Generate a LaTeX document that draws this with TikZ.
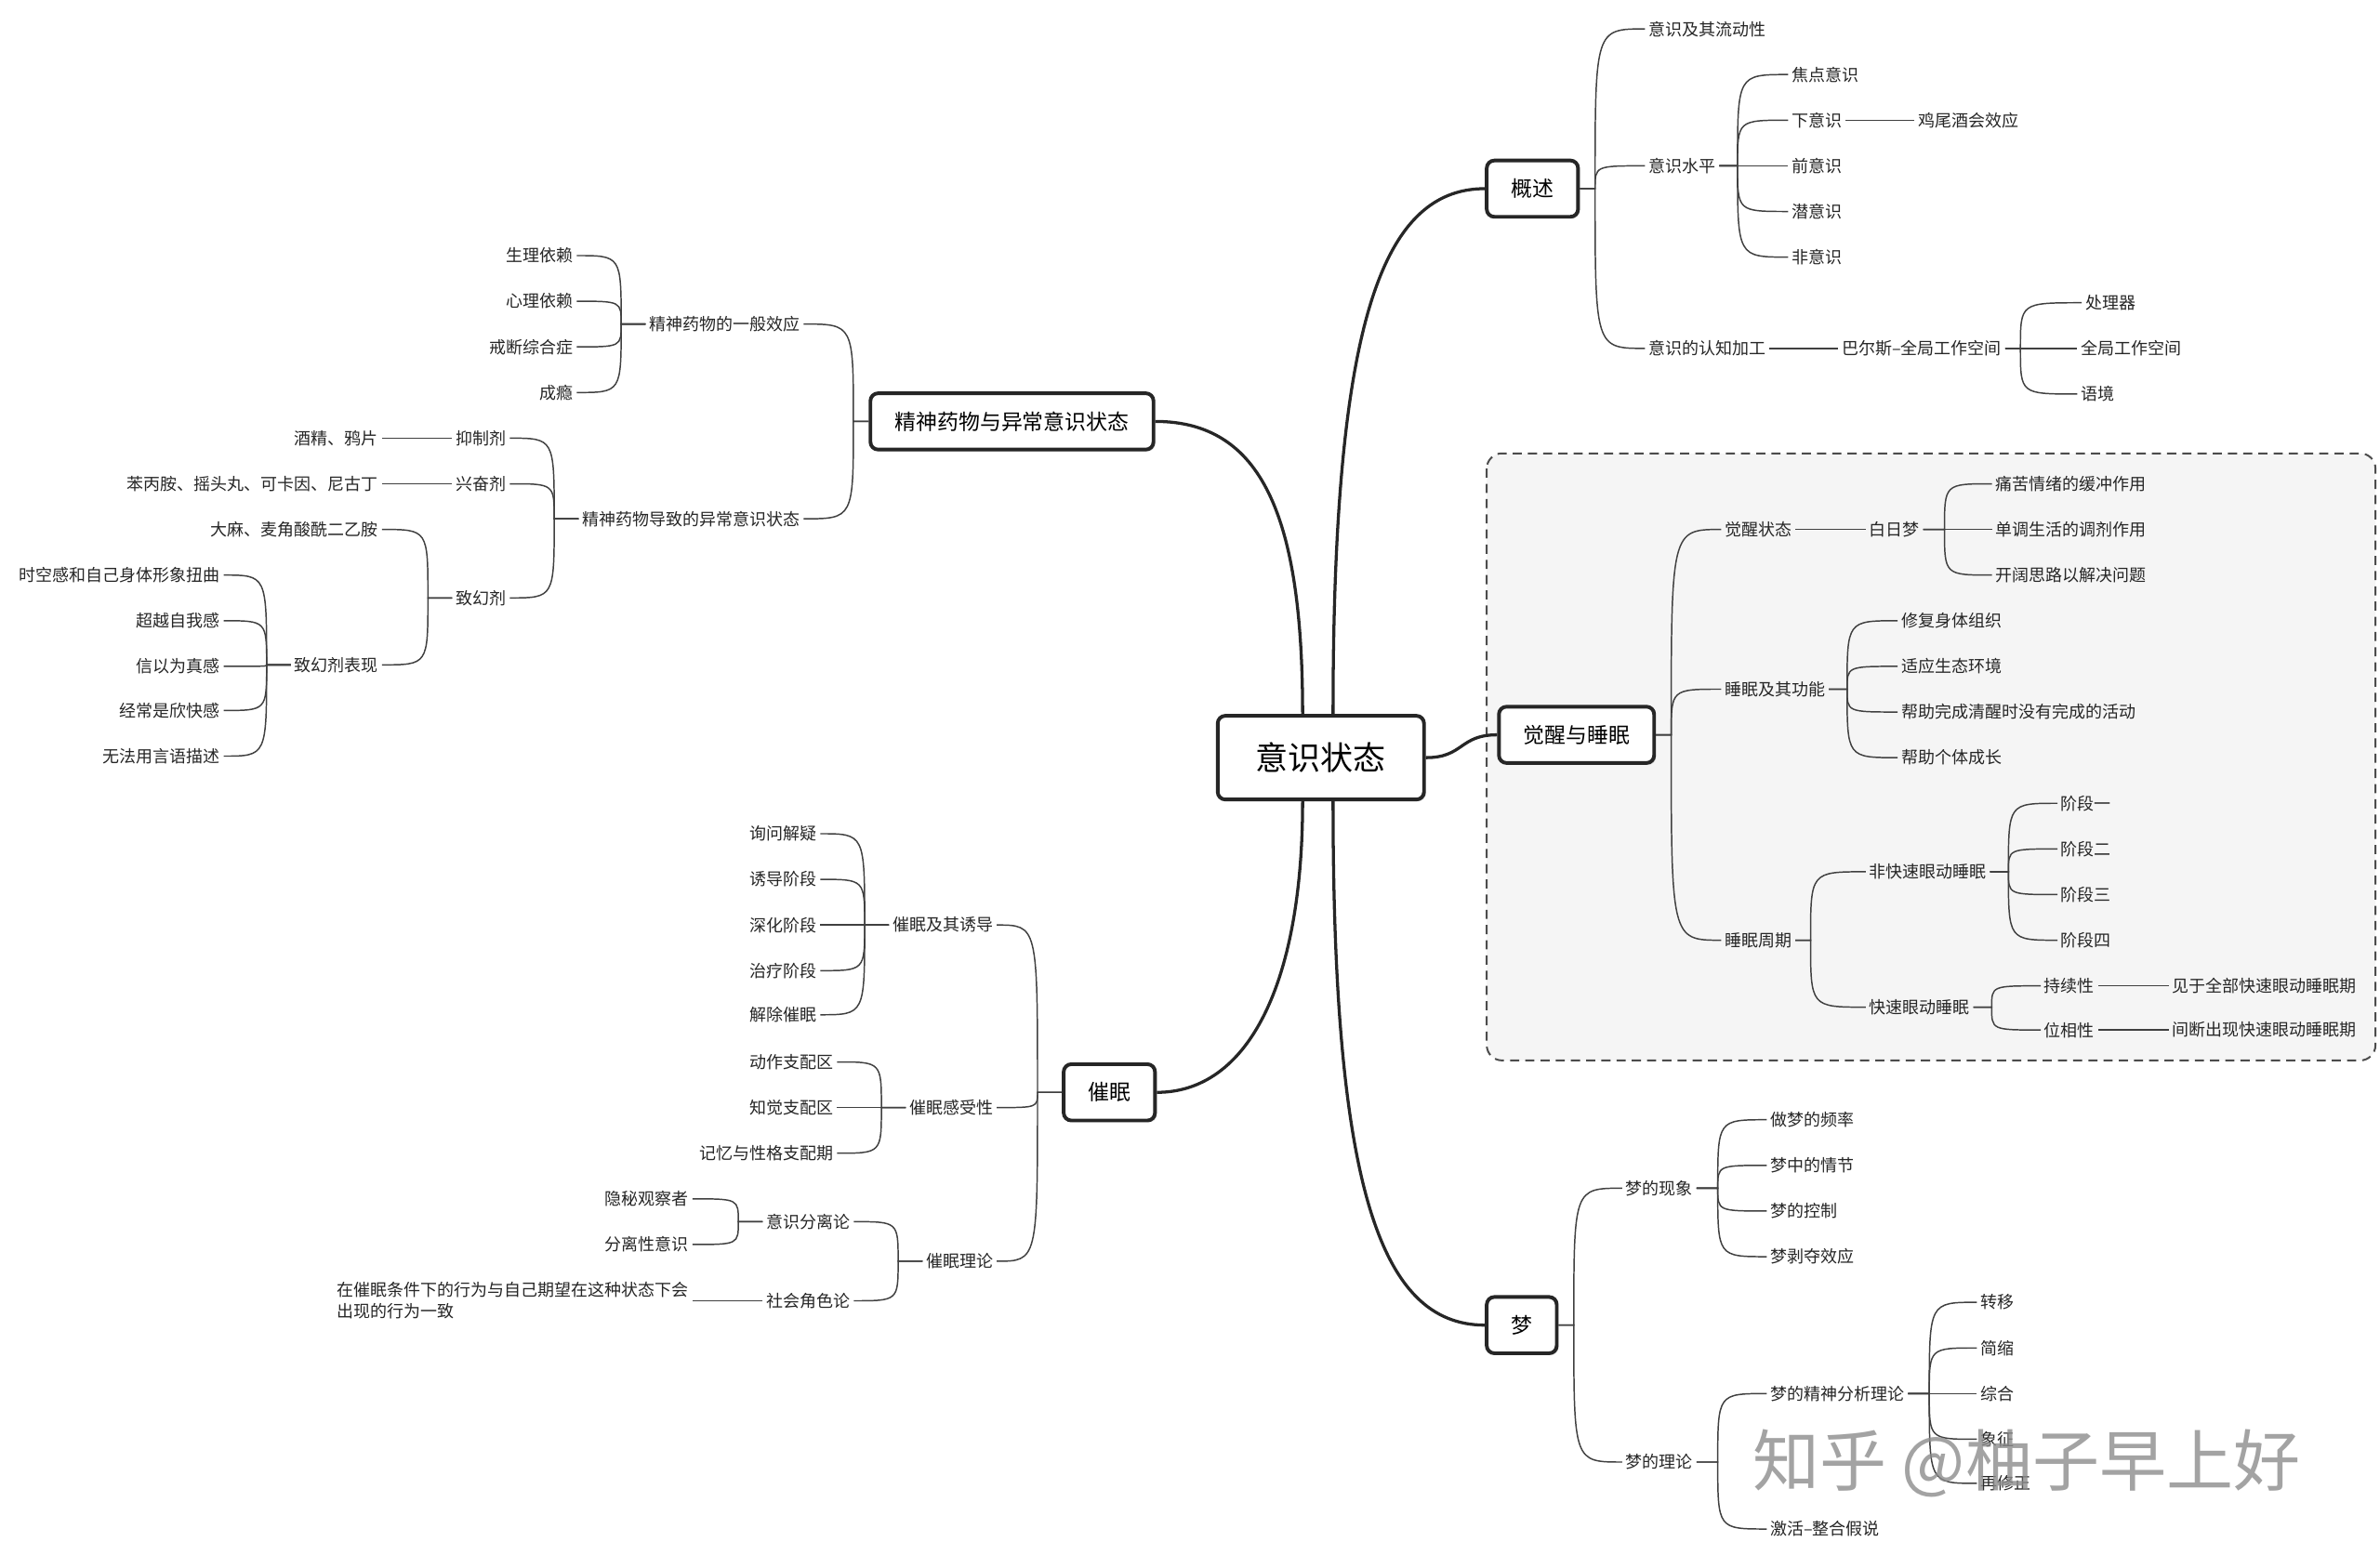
\documentclass[tikz,border=0pt]{standalone}
\usepackage{fontspec}
\setmainfont{Noto Sans CJK SC}
\usetikzlibrary{calc,shadows}
\newcommand{\RR}[4]{\node[t,anchor=west] (#1) at (#2,#3) {#4};}
\newcommand{\LL}[4]{\node[t,anchor=east] (#1) at (#2,#3) {#4};}
\newcommand{\rc}[3][5pt]{\draw[ln] let \p1=(#2.east),\p2=(#3.west) in (\p1) -- (\x1+#1,\y1) .. controls (\x1+#1,\y2) .. (\p2);}
\newcommand{\lc}[3][5pt]{\draw[ln] let \p1=(#2.west),\p2=(#3.east) in (\p1) -- (\x1-#1,\y1) .. controls (\x1-#1,\y2) .. (\p2);}
\begin{document}
\begin{tikzpicture}[x=0.5pt,y=-0.5pt,
  t/.style={font=\fontsize{5.5}{7}\selectfont,inner sep=1pt,text=black!85},
  box/.style={draw=black!85,line width=1.2pt,rounded corners=2.5pt,fill=white,inner xsep=8pt,minimum height=18.5pt,font=\fontsize{7}{8}\selectfont,drop shadow={shadow xshift=0.6pt,shadow yshift=-0.6pt,opacity=0.25}},
  ln/.style={draw=black!75,line width=0.45pt},
  mainln/.style={draw=black!85,line width=1pt}]
\useasboundingbox (0,0) rectangle (1564,1022);
\fill[white] (0,0) rectangle (1564,1022);
% dashed region
\draw[black!70,line width=0.6pt,dash pattern=on 3pt off 2pt,rounded corners=5pt,fill=black!4] (977,298) rectangle (1561,697);

\node[box,inner xsep=12.5pt,minimum height=27.5pt,font=\fontsize{10.7}{12}\selectfont] (M) at (868,498) {意识状态};
\node[box] (A) at (1007,124) {概述};
\node[box] (B) at (1036,483) {觉醒与睡眠};
\node[box] (C) at (1000,871) {梦};
\node[box] (D) at (665,277) {精神药物与异常意识状态};
\node[box] (E) at (729,718) {催眠};

\draw[mainln] ([xshift=4pt]M.north) .. controls +(0,-250) and +(-70,0) .. (A.west);
\draw[mainln] ([xshift=-6pt]M.north) .. controls +(0,-130) and +(70,0) .. (D.east);
\draw[mainln] ([xshift=4pt]M.south) .. controls +(0,250) and +(-70,0) .. (C.west);
\draw[mainln] ([xshift=-6pt]M.south) .. controls +(0,120) and +(60,0) .. (E.east);
\draw[mainln] (M.east) .. controls +(25,0) and +(-25,0) .. (B.west);

% 概述
\RR{a1}{1081}{19}{意识及其流动性}
\RR{a2}{1081}{109}{意识水平}
\RR{a3}{1081}{229}{意识的认知加工}
\rc{A}{a1}\rc{A}{a2}\rc{A}{a3}
\RR{a21}{1175}{49}{焦点意识}
\RR{a22}{1175}{79}{下意识}
\RR{a23}{1175}{109}{前意识}
\RR{a24}{1175}{139}{潜意识}
\RR{a25}{1175}{169}{非意识}
\rc[6pt]{a2}{a21}\rc[6pt]{a2}{a22}\rc[6pt]{a2}{a23}\rc[6pt]{a2}{a24}\rc[6pt]{a2}{a25}
\RR{a221}{1258}{79}{鸡尾酒会效应}
\rc{a22}{a221}
\RR{a31}{1208}{229}{巴尔斯–全局工作空间}
\rc{a3}{a31}
\RR{a311}{1368}{199}{处理器}
\RR{a312}{1365}{229}{全局工作空间}
\RR{a313}{1365}{259}{语境}
\rc{a31}{a311}\rc{a31}{a312}\rc{a31}{a313}

% 觉醒与睡眠
\RR{b1}{1131}{348}{觉醒状态}
\RR{b2}{1131}{453}{睡眠及其功能}
\RR{b3}{1131}{618}{睡眠周期}
\rc{B}{b1}\rc{B}{b2}\rc{B}{b3}
\RR{b11}{1226}{348}{白日梦}
\rc{b1}{b11}
\RR{b111}{1309}{318}{痛苦情绪的缓冲作用}
\RR{b112}{1309}{348}{单调生活的调剂作用}
\RR{b113}{1309}{378}{开阔思路以解决问题}
\rc[7pt]{b11}{b111}\rc[7pt]{b11}{b112}\rc[7pt]{b11}{b113}
\RR{b21}{1247}{408}{修复身体组织}
\RR{b22}{1247}{438}{适应生态环境}
\RR{b23}{1247}{468}{帮助完成清醒时没有完成的活动}
\RR{b24}{1247}{498}{帮助个体成长}
\rc[6pt]{b2}{b21}\rc[6pt]{b2}{b22}\rc[6pt]{b2}{b23}\rc[6pt]{b2}{b24}
\RR{b31}{1226}{573}{非快速眼动睡眠}
\RR{b32}{1226}{662}{快速眼动睡眠}
\rc[5pt]{b3}{b31}\rc[5pt]{b3}{b32}
\RR{b311}{1352}{528}{阶段一}
\RR{b312}{1352}{558}{阶段二}
\RR{b313}{1352}{588}{阶段三}
\RR{b314}{1352}{618}{阶段四}
\rc[6pt]{b31}{b311}\rc[6pt]{b31}{b312}\rc[6pt]{b31}{b313}\rc[6pt]{b31}{b314}
\RR{b321}{1341}{648}{持续性}
\RR{b322}{1341}{677}{位相性}
\rc[6pt]{b32}{b321}\rc[6pt]{b32}{b322}
\RR{b3211}{1425}{648}{见于全部快速眼动睡眠期}
\RR{b3221}{1425}{677}{间断出现快速眼动睡眠期}
\rc{b321}{b3211}\rc{b322}{b3221}

% 梦
\RR{c1}{1066}{781}{梦的现象}
\RR{c2}{1066}{961}{梦的理论}
\rc{C}{c1}\rc{C}{c2}
\RR{c11}{1161}{736}{做梦的频率}
\RR{c12}{1161}{766}{梦中的情节}
\RR{c13}{1161}{796}{梦的控制}
\RR{c14}{1161}{826}{梦剥夺效应}
\rc[7pt]{c1}{c11}\rc[7pt]{c1}{c12}\rc[7pt]{c1}{c13}\rc[7pt]{c1}{c14}
\RR{c21}{1161}{916}{梦的精神分析理论}
\RR{c22}{1161}{1005}{激活–整合假说}
\rc[7pt]{c2}{c21}\rc[7pt]{c2}{c22}
\RR{c211}{1299}{856}{转移}
\RR{c212}{1299}{886}{简缩}
\RR{c213}{1299}{916}{综合}
\RR{c214}{1299}{946}{象征}
\RR{c215}{1299}{975}{再修正}
\rc[7pt]{c21}{c211}\rc[7pt]{c21}{c212}\rc[7pt]{c21}{c213}\rc[7pt]{c21}{c214}\rc[7pt]{c21}{c215}

% 精神药物
\LL{d1}{528}{213}{精神药物的一般效应}
\LL{d2}{528}{341}{精神药物导致的异常意识状态}
\lc{D}{d1}\lc{D}{d2}
\LL{d11}{379}{168}{生理依赖}
\LL{d12}{379}{198}{心理依赖}
\LL{d13}{379}{228}{戒断综合症}
\LL{d14}{379}{258}{成瘾}
\lc[8pt]{d1}{d11}\lc[8pt]{d1}{d12}\lc[8pt]{d1}{d13}\lc[8pt]{d1}{d14}
\LL{d21}{335}{288}{抑制剂}
\LL{d22}{335}{318}{兴奋剂}
\LL{d23}{335}{393}{致幻剂}
\lc[8pt]{d2}{d21}\lc[8pt]{d2}{d22}\lc[8pt]{d2}{d23}
\LL{d211}{251}{288}{酒精、鸦片}
\LL{d221}{251}{318}{苯丙胺、摇头丸、可卡因、尼古丁}
\lc{d21}{d211}\lc{d22}{d221}
\LL{d231}{251}{348}{大麻、麦角酸酰二乙胺}
\LL{d232}{251}{437}{致幻剂表现}
\lc[8pt]{d23}{d231}\lc[8pt]{d23}{d232}
\LL{d2321}{147}{378}{时空感和自己身体形象扭曲}
\LL{d2322}{147}{408}{超越自我感}
\LL{d2323}{147}{438}{信以为真感}
\LL{d2324}{147}{467}{经常是欣快感}
\LL{d2325}{147}{497}{无法用言语描述}
\lc[8pt]{d232}{d2321}\lc[8pt]{d232}{d2322}\lc[8pt]{d232}{d2323}\lc[8pt]{d232}{d2324}\lc[8pt]{d232}{d2325}

% 催眠
\LL{e1}{655}{608}{催眠及其诱导}
\LL{e2}{655}{728}{催眠感受性}
\LL{e3}{655}{829}{催眠理论}
\lc[8pt]{E}{e1}\lc[8pt]{E}{e2}\lc[8pt]{E}{e3}
\LL{e11}{539}{548}{询问解疑}
\LL{e12}{539}{578}{诱导阶段}
\LL{e13}{539}{608}{深化阶段}
\LL{e14}{539}{638}{治疗阶段}
\LL{e15}{539}{667}{解除催眠}
\lc[8pt]{e1}{e11}\lc[8pt]{e1}{e12}\lc[8pt]{e1}{e13}\lc[8pt]{e1}{e14}\lc[8pt]{e1}{e15}
\LL{e21}{550}{698}{动作支配区}
\LL{e22}{550}{728}{知觉支配区}
\LL{e23}{550}{758}{记忆与性格支配期}
\lc[8pt]{e2}{e21}\lc[8pt]{e2}{e22}\lc[8pt]{e2}{e23}
\LL{e31}{561}{803}{意识分离论}
\LL{e32}{561}{855}{社会角色论}
\lc[8pt]{e3}{e31}\lc[8pt]{e3}{e32}
\LL{e311}{455}{788}{隐秘观察者}
\LL{e312}{455}{818}{分离性意识}
\lc[8pt]{e31}{e311}\lc[8pt]{e31}{e312}
\node[t,anchor=east,align=left] (e321) at (455,855) {在催眠条件下的行为与自己期望在这种状态下会\\出现的行为一致};
\lc{e32}{e321}

% watermark
\node[font=\fontsize{22}{24}\selectfont,text=black!45,opacity=0.8,anchor=west] (wm) at (1145,962) {知乎 @柚子早上好};
\end{tikzpicture}
\end{document}
